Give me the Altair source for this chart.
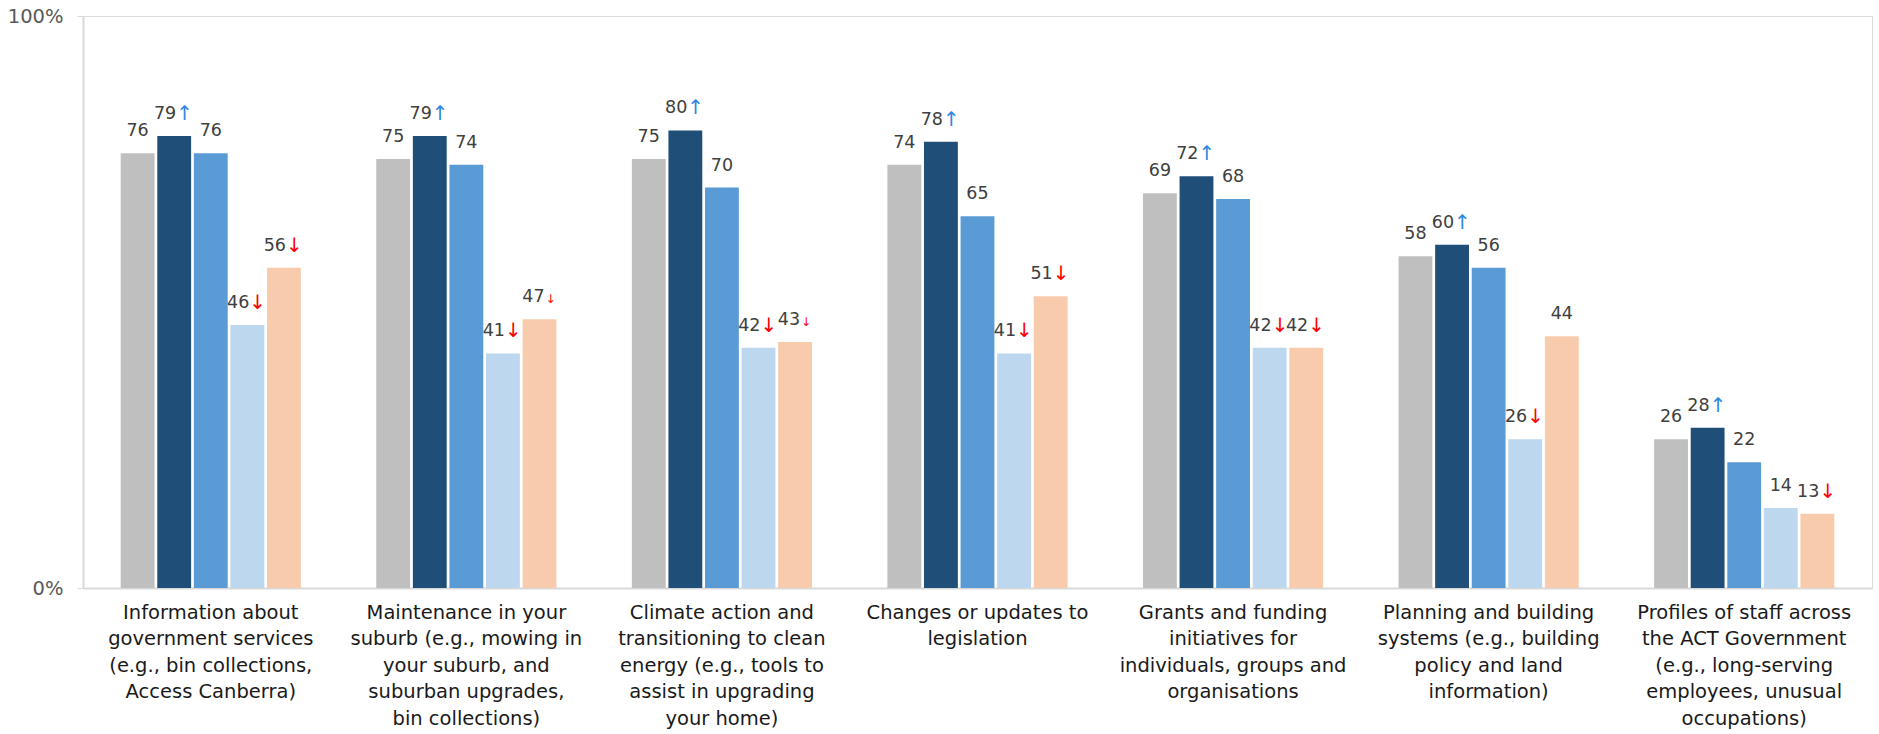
import altair as alt
import pandas as pd

# Topic categories (axis label lines separated by "|")
categories = [
    "Information about|government services|(e.g., bin collections,|Access Canberra)",
    "Maintenance in your|suburb (e.g., mowing in|your suburb, and|suburban upgrades,|bin collections)",
    "Climate action and|transitioning to clean|energy (e.g., tools to|assist in upgrading|your home)",
    "Changes or updates to|legislation",
    "Grants and funding|initiatives for|individuals, groups and|organisations",
    "Planning and building|systems (e.g., building|policy and land|information)",
    "Profiles of staff across|the ACT Government|(e.g., long-serving|employees, unusual|occupations)",
]

series = ["S1", "S2", "S3", "S4", "S5"]
colors = ["#BFBFBF", "#1F4E79", "#5B9BD5", "#BDD7EE", "#F8CBAD"]

s1_values = [76, 75, 75, 74, 69, 58, 26]
s2_values = [79, 79, 80, 78, 72, 60, 28]
s3_values = [76, 74, 70, 65, 68, 56, 22]
s4_values = [46, 41, 42, 41, 42, 26, 14]
s5_values = [56, 47, 43, 51, 42, 44, 13]

# significance markers: "up", "down", "down_small" or ""
s1_marks = ["", "", "", "", "", "", ""]
s2_marks = ["up", "up", "up", "up", "up", "up", "up"]
s3_marks = ["", "", "", "", "", "", ""]
s4_marks = ["down", "down", "down", "down", "down", "down", ""]
s5_marks = ["down", "down_small", "down_small", "down", "down", "", "down"]

rows = []
for name, vals, marks in zip(
    series,
    [s1_values, s2_values, s3_values, s4_values, s5_values],
    [s1_marks, s2_marks, s3_marks, s4_marks, s5_marks],
):
    for cat, v, m in zip(categories, vals, marks):
        rows.append({"category": cat, "series": name, "value": v, "mark": m})
df = pd.DataFrame(rows)

FONT = "DejaVu Sans"

x_enc = alt.X(
    "category:N",
    sort=categories,
    title=None,
    scale=alt.Scale(paddingInner=0.295, paddingOuter=0.1475),
    axis=alt.Axis(
        labelAngle=0,
        labelExpr="split(datum.label, '|')",
        labelFont=FONT,
        labelFontSize=19.5,
        labelColor="#1A1A1A",
        labelLineHeight=26.5,
        labelPadding=15,
        labelLimit=400,
        ticks=False,
        domainColor="#D9D9D9",
        domainWidth=2,
    ),
)
xoff = alt.XOffset("series:N", sort=series, scale=alt.Scale(paddingInner=0.075, paddingOuter=0))
y_enc = alt.Y(
    "value:Q",
    title=None,
    scale=alt.Scale(domain=[0, 100], nice=False),
    axis=alt.Axis(
        values=[0, 100],
        labelExpr="datum.value + '%'",
        labelFont=FONT,
        labelFontSize=19.5,
        labelColor="#595959",
        labelPadding=14,
        grid=False,
        tickColor="#D9D9D9",
        tickSize=6,
        domainColor="#D9D9D9",
        domainWidth=2,
    ),
)

base = alt.Chart(df)
cat_x = alt.X("category:N", sort=categories)

bars = base.mark_bar().encode(
    x=x_enc,
    xOffset=xoff,
    y=y_enc,
    color=alt.Color("series:N", sort=series, scale=alt.Scale(domain=series, range=colors), legend=None),
)

num_plain = base.transform_filter("datum.mark == ''").mark_text(
    font=FONT, fontSize=17.5, color="#404040", baseline="alphabetic", align="center", dy=-17
).encode(x=cat_x, xOffset=xoff, y="value:Q", text="value:Q")

num_big = base.transform_filter("datum.mark == 'up' || datum.mark == 'down'").mark_text(
    font=FONT, fontSize=17.5, color="#404040", baseline="alphabetic", align="right", dy=-17, dx=2
).encode(x=cat_x, xOffset=xoff, y="value:Q", text="value:Q")

num_small = base.transform_filter("datum.mark == 'down_small'").mark_text(
    font=FONT, fontSize=17.5, color="#404040", baseline="alphabetic", align="right", dy=-17, dx=5
).encode(x=cat_x, xOffset=xoff, y="value:Q", text="value:Q")

arrow_up = base.transform_filter("datum.mark == 'up'").mark_text(
    font=FONT, fontSize=20, color="#2E86DE", baseline="alphabetic", align="left", dy=-16, dx=2
).encode(x=cat_x, xOffset=xoff, y="value:Q", text=alt.value("↑"))

arrow_down = base.transform_filter("datum.mark == 'down'").mark_text(
    font=FONT, fontSize=20, color="#FF0000", baseline="alphabetic", align="left", dy=-16, dx=2
).encode(x=cat_x, xOffset=xoff, y="value:Q", text=alt.value("↓"))

arrow_small = base.transform_filter("datum.mark == 'down_small'").mark_text(
    font=FONT, fontSize=12, color="#FF0000", baseline="alphabetic", align="left", dy=-16, dx=6
).encode(x=cat_x, xOffset=xoff, y="value:Q", text=alt.value("↓"))

chart = (
    alt.layer(bars, num_plain, num_big, num_small, arrow_up, arrow_down, arrow_small)
    .properties(
        width=1789,
        height=572,
        autosize=alt.AutoSizeParams(type="none"),
        padding={"left": 83, "top": 16, "right": 7, "bottom": 146},
    )
    .configure_view(stroke=None)
    .configure(background="white")
)

chart.save("out.html", embed_options={"renderer": "svg", "actions": False})
